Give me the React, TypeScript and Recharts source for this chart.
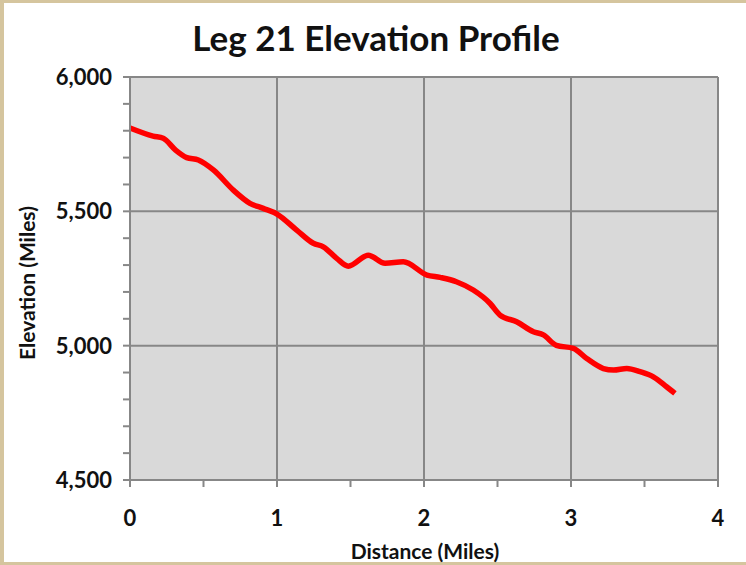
import { LineChart, Line, XAxis, YAxis, ReferenceArea, ReferenceLine } from 'recharts'

// distance along the leg (miles) and elevation
const distance = [
  0, 0.157, 0.226, 0.31, 0.386, 0.465, 0.567, 0.703, 0.816, 0.907, 1.0, 1.134, 1.247, 1.315,
  1.406, 1.485, 1.621, 1.735, 1.859, 2.02, 2.11, 2.22, 2.335, 2.45, 2.517, 2.63, 2.744,
  2.812, 2.9, 3.016, 3.107, 3.22, 3.29, 3.38, 3.47, 3.56, 3.65, 3.707,
]
const elevation = [
  5810, 5780, 5772, 5728, 5700, 5691, 5654, 5579, 5530, 5511, 5490, 5430, 5381, 5368,
  5325, 5296, 5337, 5307, 5312, 5263, 5254, 5238, 5207, 5157, 5114, 5089, 5052,
  5040, 5001, 4990, 4952, 4915, 4909, 4915, 4903, 4884, 4847, 4822,
]

const xTicks = [0, 0.5, 1, 1.5, 2, 2.5, 3, 3.5, 4]
const yTicks = [4500, 4600, 4700, 4800, 4900, 5000, 5100, 5200, 5300, 5400, 5500, 5600, 5700, 5800, 5900, 6000]
const xGrid = [1, 2, 3, 4]
const yGrid = [5000, 5500, 6000]

const data = distance.map((d, i) => ({ distance: d, elevation: elevation[i] }))

const FONT = 'Lato, "Open Sans", sans-serif'
const GRID = '#878787'

function XTick(props: any) {
  const { x, y, payload } = props
  if (!Number.isInteger(payload.value)) return null
  return (
    <text x={x} y={y + 37} textAnchor="middle" fontFamily={FONT} fontWeight={700} fontSize={22} fill="#111">
      {payload.value}
    </text>
  )
}

function YTick(props: any) {
  const { x, y, payload } = props
  if (payload.value % 500 !== 0) return null
  return (
    <text x={x} y={y + 8} textAnchor="end" fontFamily={FONT} fontWeight={700} fontSize={22} fill="#111">
      {payload.value.toLocaleString('en-US')}
    </text>
  )
}

export default function App() {
  return (
    <div style={{ position: 'absolute', left: 0, top: 0, width: 746, height: 565, background: '#d5c59e', overflow: 'hidden' }}>
      <div style={{ position: 'absolute', left: 4, top: 3, width: 742, height: 559, background: '#fff' }} />
      <div
        style={{
          position: 'absolute', left: 0, top: 16, width: 752, textAlign: 'center',
          fontFamily: FONT, fontWeight: 700, fontSize: 35, color: '#111',
        }}
      >
        Leg 21 Elevation Profile
      </div>
      <div
        style={{
          position: 'absolute', left: 26, top: 283, transform: 'translate(-50%, -50%) rotate(-90deg)',
          whiteSpace: 'nowrap', fontFamily: FONT, fontWeight: 700, fontSize: 21, color: '#111',
        }}
      >
        Elevation (Miles)
      </div>
      <div
        style={{
          position: 'absolute', left: 425, top: 550, transform: 'translate(-50%, -50%)',
          whiteSpace: 'nowrap', fontFamily: FONT, fontWeight: 700, fontSize: 21, color: '#111',
        }}
      >
        Distance (Miles)
      </div>
      <div style={{ position: 'absolute', left: 0, top: 0 }}>
        <LineChart width={746} height={565} data={data} margin={{ top: 77, right: 28, bottom: 25, left: 20 }}>
          <XAxis
            dataKey="distance"
            type="number"
            domain={[0, 4]}
            ticks={xTicks}
            interval={0}
            tickSize={7}
            tickMargin={2}
            height={60}
            axisLine={{ stroke: GRID, strokeWidth: 2 }}
            tickLine={{ stroke: GRID, strokeWidth: 2 }}
            tick={<XTick />}
          />
          <YAxis
            type="number"
            domain={[4500, 6000]}
            ticks={yTicks}
            interval={0}
            tickSize={7}
            tickMargin={11}
            width={110}
            axisLine={{ stroke: GRID, strokeWidth: 2 }}
            tickLine={{ stroke: GRID, strokeWidth: 2 }}
            tick={<YTick />}
          />
          <ReferenceArea x1={0} x2={4} y1={4500} y2={6000} fill="#d9d9d9" fillOpacity={1} stroke="none" />
          {xGrid.map((v) => (
            <ReferenceLine key={'x' + v} x={v} stroke={GRID} strokeWidth={2} />
          ))}
          {yGrid.map((v) => (
            <ReferenceLine key={'y' + v} y={v} stroke={GRID} strokeWidth={2} />
          ))}
          <Line
            type="monotone"
            dataKey="elevation"
            stroke="#ff0000"
            strokeWidth={5.5}
            dot={false}
            isAnimationActive={false}
          />
        </LineChart>
      </div>
    </div>
  )
}
